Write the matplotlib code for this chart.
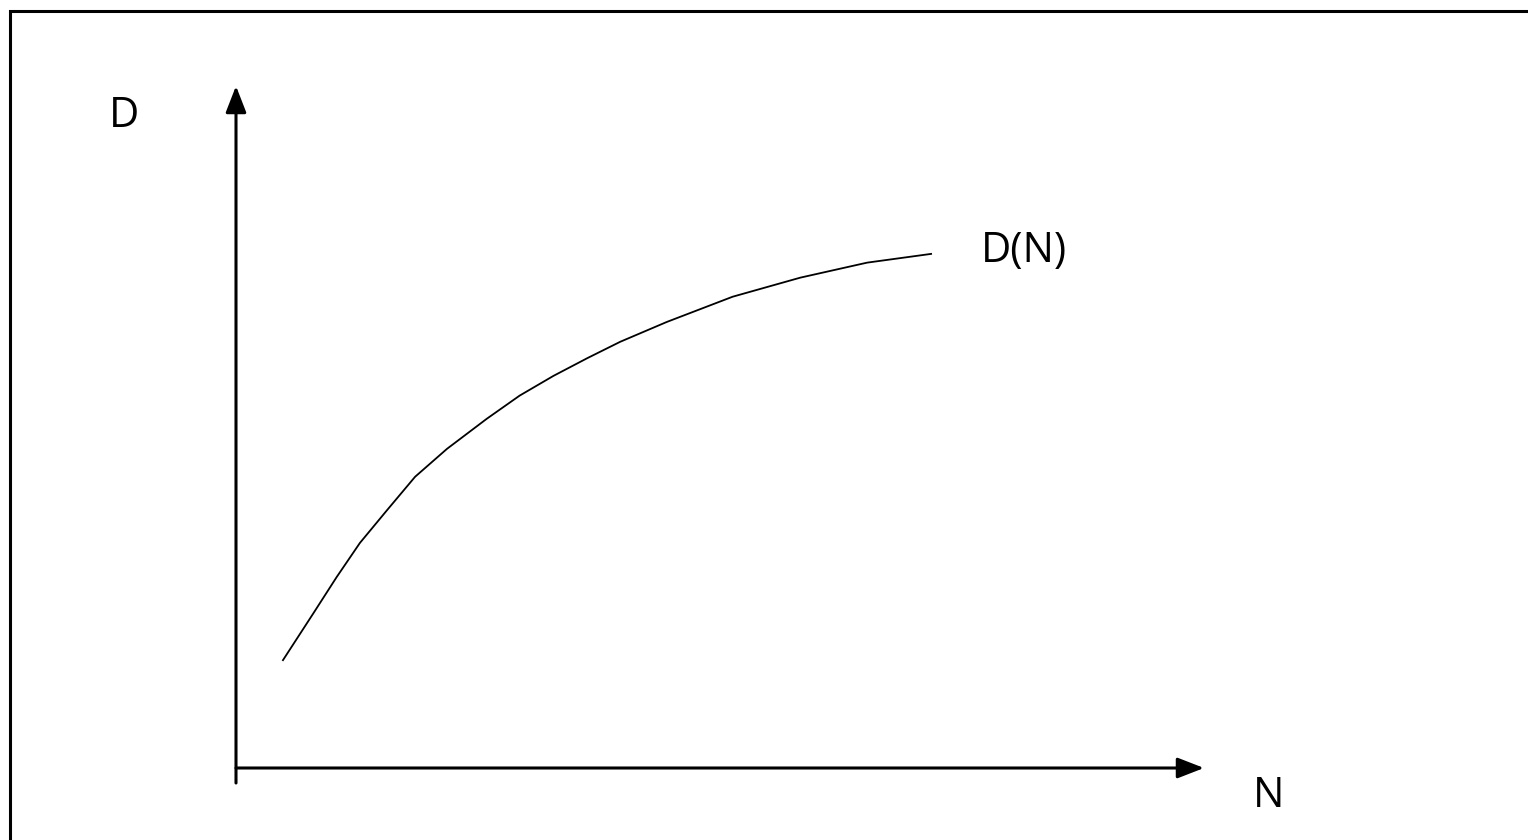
import matplotlib
matplotlib.use('Agg')
import matplotlib.pyplot as plt
from matplotlib import patches

# curve D(N) (arbitrary units, axis 0..10)
n_vals = [0.48, 0.80, 1.04, 1.28, 1.56, 1.85, 2.18, 2.59, 2.93, 3.28,
          3.63, 3.97, 4.45, 5.13, 5.83, 6.52, 7.19]
d_vals = [1.57, 2.27, 2.80, 3.30, 3.78, 4.27, 4.68, 5.12, 5.46, 5.75,
          6.01, 6.25, 6.54, 6.91, 7.19, 7.41, 7.54]

x_label = 'N'
y_label = 'D'
curve_label = 'D(N)'

W, H = 1528, 840
plt.rcParams['font.family'] = ['Open Sans', 'DejaVu Sans']

fig = plt.figure(figsize=(W / 100, H / 100), dpi=100)

# frame round the drawing (right and bottom edges fall outside the image)
frame = patches.Rectangle((9.5 / W, -0.1), 1.2, 1.1 - 11.5 / H,
                          transform=fig.transFigure, fill=False,
                          edgecolor='black', linewidth=2.2)
fig.patches.append(frame)

# axes: origin at the corner of the two arrows
ax = fig.add_axes([236 / W, (H - 768) / H, (1204 - 236) / W, (768 - 86) / H])
ax.set_xlim(0, 10)
ax.set_ylim(0, 10)
ax.set_axis_off()

arrow = dict(arrowstyle='-|>,head_length=0.9,head_width=0.35', color='black',
             linewidth=2.2, mutation_scale=18, shrinkA=0, shrinkB=0)
ax.annotate('', xy=(0, 10), xytext=(0, -0.22), arrowprops=arrow,
            annotation_clip=False)
ax.annotate('', xy=(10, 0), xytext=(0, 0), arrowprops=arrow,
            annotation_clip=False)

ax.plot(n_vals, d_vals, color='black', linewidth=1.3, clip_on=False,
        solid_joinstyle='round', solid_capstyle='butt')

ax.text(-1.16, 9.56, y_label, fontsize=30, ha='center', va='center')
ax.text(10.67, -0.41, x_label, fontsize=30, ha='center', va='center')
ax.text(7.70, 7.58, curve_label, fontsize=30, ha='left', va='center')

plt.savefig('out.png', dpi=100)
